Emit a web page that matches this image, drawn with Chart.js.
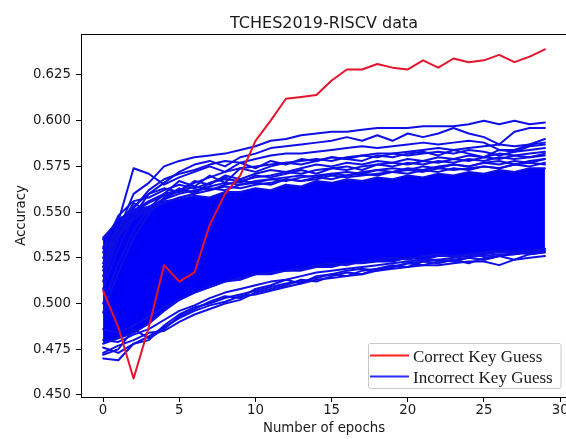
<!DOCTYPE html>
<html>
<head>
<meta charset="utf-8">
<title>TCHES2019-RISCV data</title>
<script src="https://cdn.jsdelivr.net/npm/chart.js@4.4.1/dist/chart.umd.min.js"></script>
<style>
  html, body { margin: 0; padding: 0; background: #fff; overflow: hidden; }
  #wrap { width: 566px; height: 439px; overflow: hidden; }
</style>
</head>
<body>
<div id="wrap"><canvas id="chart" width="570" height="439"></canvas></div>
<script>
// epochs and tick labels
const epochs = [0, 1, 2, 3, 4, 5, 6, 7, 8, 9, 10, 11, 12, 13, 14, 15, 16, 17, 18, 19, 20, 21, 22, 23, 24, 25, 26, 27, 28, 29]
const xTicks = [0, 5, 10, 15, 20, 25, 30]
const yTicks = [0.450, 0.475, 0.500, 0.525, 0.550, 0.575, 0.600, 0.625]

// correct key guess (red)
const correctKey = [0.507, 0.487, 0.459, 0.487, 0.521, 0.512, 0.517, 0.543, 0.560, 0.570, 0.589, 0.600, 0.612, 0.613, 0.614, 0.622, 0.628, 0.628, 0.631, 0.629, 0.628, 0.633, 0.629, 0.634, 0.632, 0.633, 0.636, 0.632, 0.635, 0.639]

// dense part of the incorrect guesses (upper / lower edge of the solid blue mass)
const bandTop = [0.535, 0.546, 0.551, 0.553, 0.556, 0.557, 0.559, 0.558, 0.561, 0.561, 0.563, 0.562, 0.565, 0.564, 0.567, 0.566, 0.568, 0.567, 0.569, 0.568, 0.570, 0.569, 0.571, 0.570, 0.572, 0.571, 0.573, 0.572, 0.574, 0.574]
const bandBottom = [0.478, 0.481, 0.484, 0.489, 0.496, 0.502, 0.506, 0.509, 0.512, 0.513, 0.516, 0.516, 0.518, 0.518, 0.520, 0.520, 0.522, 0.522, 0.523, 0.523, 0.525, 0.524, 0.526, 0.526, 0.527, 0.527, 0.528, 0.528, 0.529, 0.530]

// incorrect key guesses that stand out from the mass
const upperGuesses = [
  [0.515, 0.540, 0.560, 0.566, 0.575, 0.578, 0.580, 0.581, 0.582, 0.584, 0.586, 0.589, 0.590, 0.592, 0.593, 0.594, 0.594, 0.595, 0.596, 0.596, 0.596, 0.597, 0.597, 0.597, 0.598, 0.600, 0.598, 0.600, 0.598, 0.599],
  [0.508, 0.530, 0.548, 0.560, 0.566, 0.572, 0.576, 0.578, 0.575, 0.580, 0.582, 0.585, 0.586, 0.587, 0.588, 0.589, 0.591, 0.589, 0.592, 0.589, 0.593, 0.591, 0.593, 0.596, 0.593, 0.591, 0.587, 0.594, 0.596, 0.596],
  [0.512, 0.536, 0.552, 0.562, 0.568, 0.571, 0.573, 0.576, 0.578, 0.577, 0.579, 0.581, 0.582, 0.582, 0.583, 0.584, 0.585, 0.586, 0.585, 0.586, 0.587, 0.588, 0.587, 0.588, 0.589, 0.588, 0.584, 0.584, 0.587, 0.590],
  [0.520, 0.545, 0.574, 0.571, 0.565, 0.569, 0.572, 0.575, 0.572, 0.577, 0.574, 0.578, 0.576, 0.579, 0.578, 0.580, 0.579, 0.581, 0.580, 0.582, 0.581, 0.582, 0.583, 0.582, 0.584, 0.583, 0.581, 0.583, 0.584, 0.585],
  [0.500, 0.522, 0.540, 0.552, 0.560, 0.567, 0.564, 0.570, 0.566, 0.574, 0.572, 0.575, 0.577, 0.576, 0.578, 0.580, 0.579, 0.578, 0.581, 0.580, 0.582, 0.583, 0.581, 0.584, 0.582, 0.580, 0.584, 0.583, 0.586, 0.587],
  [0.495, 0.517, 0.536, 0.549, 0.557, 0.562, 0.566, 0.569, 0.572, 0.574, 0.575, 0.576, 0.577, 0.578, 0.579, 0.578, 0.580, 0.581, 0.582, 0.582, 0.583, 0.584, 0.585, 0.584, 0.585, 0.586, 0.587, 0.586, 0.587, 0.588],
  [0.525, 0.540, 0.553, 0.560, 0.563, 0.561, 0.567, 0.565, 0.570, 0.568, 0.571, 0.573, 0.572, 0.574, 0.576, 0.575, 0.577, 0.576, 0.578, 0.577, 0.579, 0.578, 0.580, 0.579, 0.581, 0.580, 0.582, 0.581, 0.582, 0.583],
  [0.530, 0.548, 0.556, 0.558, 0.562, 0.565, 0.563, 0.566, 0.568, 0.567, 0.569, 0.570, 0.572, 0.571, 0.573, 0.574, 0.573, 0.575, 0.576, 0.575, 0.577, 0.576, 0.578, 0.577, 0.579, 0.578, 0.580, 0.579, 0.580, 0.581],
  [0.536, 0.545, 0.550, 0.555, 0.559, 0.561, 0.564, 0.562, 0.565, 0.567, 0.566, 0.568, 0.569, 0.570, 0.569, 0.571, 0.572, 0.571, 0.573, 0.574, 0.573, 0.575, 0.574, 0.576, 0.575, 0.577, 0.578, 0.576, 0.578, 0.579],
  [0.528, 0.542, 0.551, 0.556, 0.560, 0.562, 0.561, 0.564, 0.566, 0.565, 0.567, 0.568, 0.567, 0.569, 0.570, 0.571, 0.570, 0.572, 0.573, 0.572, 0.574, 0.573, 0.575, 0.576, 0.575, 0.577, 0.576, 0.578, 0.577, 0.579],
  [0.522, 0.538, 0.548, 0.553, 0.557, 0.560, 0.562, 0.563, 0.562, 0.565, 0.566, 0.565, 0.568, 0.567, 0.569, 0.568, 0.570, 0.571, 0.570, 0.572, 0.571, 0.573, 0.572, 0.574, 0.573, 0.575, 0.574, 0.576, 0.575, 0.577],
  [0.518, 0.541, 0.555, 0.550, 0.558, 0.563, 0.560, 0.566, 0.569, 0.566, 0.570, 0.569, 0.571, 0.573, 0.571, 0.574, 0.575, 0.573, 0.576, 0.577, 0.576, 0.578, 0.577, 0.579, 0.578, 0.580, 0.579, 0.581, 0.580, 0.582],
  [0.531, 0.537, 0.546, 0.552, 0.555, 0.558, 0.560, 0.562, 0.564, 0.563, 0.565, 0.566, 0.568, 0.567, 0.568, 0.570, 0.569, 0.570, 0.571, 0.572, 0.573, 0.572, 0.574, 0.573, 0.574, 0.575, 0.574, 0.576, 0.577, 0.576]
]
const lowerGuesses = [
  [0.470, 0.469, 0.478, 0.482, 0.487, 0.492, 0.496, 0.499, 0.501, 0.504, 0.505, 0.507, 0.509, 0.511, 0.513, 0.514, 0.515, 0.516, 0.518, 0.519, 0.520, 0.521, 0.521, 0.522, 0.523, 0.523, 0.521, 0.524, 0.525, 0.526],
  [0.473, 0.477, 0.480, 0.484, 0.485, 0.490, 0.494, 0.497, 0.500, 0.502, 0.506, 0.508, 0.510, 0.513, 0.512, 0.515, 0.517, 0.516, 0.519, 0.520, 0.522, 0.521, 0.523, 0.524, 0.522, 0.525, 0.526, 0.524, 0.527, 0.528],
  [0.476, 0.473, 0.478, 0.480, 0.488, 0.494, 0.498, 0.500, 0.503, 0.505, 0.507, 0.509, 0.511, 0.512, 0.514, 0.516, 0.515, 0.518, 0.519, 0.521, 0.520, 0.523, 0.524, 0.523, 0.525, 0.524, 0.526, 0.527, 0.528, 0.529],
  [0.480, 0.479, 0.483, 0.486, 0.491, 0.496, 0.499, 0.503, 0.506, 0.508, 0.510, 0.512, 0.513, 0.515, 0.517, 0.518, 0.519, 0.520, 0.521, 0.522, 0.523, 0.524, 0.524, 0.525, 0.526, 0.526, 0.527, 0.527, 0.528, 0.529],
  [0.486, 0.484, 0.488, 0.493, 0.498, 0.502, 0.506, 0.509, 0.512, 0.514, 0.516, 0.517, 0.518, 0.519, 0.521, 0.522, 0.521, 0.523, 0.524, 0.525, 0.524, 0.526, 0.527, 0.526, 0.527, 0.528, 0.529, 0.528, 0.529, 0.530],
  [0.472, 0.475, 0.486, 0.481, 0.486, 0.493, 0.497, 0.501, 0.504, 0.503, 0.508, 0.510, 0.513, 0.511, 0.515, 0.516, 0.518, 0.519, 0.518, 0.520, 0.522, 0.523, 0.522, 0.524, 0.525, 0.524, 0.526, 0.528, 0.527, 0.528]
]

const blue = 'rgb(14, 14, 230)'
const toPoints = arr => arr.map((v, i) => ({ x: epochs[i], y: v }))

const datasets = [
  { label: 'Correct Key Guess', data: toPoints(correctKey), borderColor: '#e3142c', borderWidth: 2, order: 0 },
  { label: 'Incorrect Key Guess', data: toPoints(bandBottom), borderColor: blue, borderWidth: 2, fill: false, order: 2 },
  { label: 'Incorrect Key Guess', data: toPoints(bandTop), borderColor: blue, borderWidth: 2, backgroundColor: 'rgb(0, 0, 246)', fill: '-1', order: 2 }
]
upperGuesses.concat(lowerGuesses).forEach(arr => {
  datasets.push({ label: 'Incorrect Key Guess', data: toPoints(arr), borderColor: blue, borderWidth: 2, fill: false, order: 1 })
})

// title, axis titles, top/right frame and the legend box
const decorations = {
  id: 'decorations',
  afterDraw (chart) {
    const { ctx, chartArea } = chart
    ctx.save()
    ctx.strokeStyle = '#000'
    ctx.lineWidth = 1
    ctx.beginPath()
    ctx.moveTo(chartArea.left, Math.round(chartArea.top) + 0.5)
    ctx.lineTo(chartArea.right, Math.round(chartArea.top) + 0.5)
    ctx.lineTo(chartArea.right, chartArea.bottom)
    ctx.stroke()

    ctx.fillStyle = '#1a1a1a'
    ctx.textAlign = 'center'
    ctx.textBaseline = 'alphabetic'
    ctx.font = '16px "DejaVu Sans"'
    ctx.fillText('TCHES2019-RISCV data', (chartArea.left + chartArea.right) / 2, 27.5)
    ctx.font = '13.3px "DejaVu Sans"'
    ctx.fillText('Number of epochs', (chartArea.left + chartArea.right) / 2, 431.5)
    ctx.save()
    ctx.translate(24.8, (chartArea.top + chartArea.bottom) / 2)
    ctx.rotate(-Math.PI / 2)
    ctx.fillText('Accuracy', 0, 0)
    ctx.restore()

    // legend
    ctx.fillStyle = 'rgba(255, 255, 255, 0.85)'
    ctx.strokeStyle = '#c8c8c8'
    ctx.beginPath()
    ctx.roundRect(368.5, 343.5, 192.5, 45, 2)
    ctx.fill()
    ctx.stroke()
    const rows = [
      { text: datasets[0].label, color: '#ff1f1f', y: 355.5, base: 361.7 },
      { text: datasets[1].label, color: '#2a2aff', y: 376.5, base: 382.6 }
    ]
    ctx.font = '17px "Liberation Serif"'
    ctx.textAlign = 'left'
    rows.forEach(r => {
      ctx.strokeStyle = r.color
      ctx.lineWidth = 2
      ctx.beginPath()
      ctx.moveTo(370, r.y)
      ctx.lineTo(409, r.y)
      ctx.stroke()
      ctx.fillStyle = '#1a1a1a'
      ctx.fillText(r.text, 413, r.base)
    })
    ctx.restore()
  }
}

const tickFont = { family: 'DejaVu Sans', size: 13.3 }

new Chart(document.getElementById('chart'), {
  type: 'line',
  data: { datasets },
  plugins: [decorations],
  options: {
    responsive: false,
    animation: false,
    devicePixelRatio: 1,
    layout: { padding: { top: 34, right: 3, left: 0, bottom: 0 } },
    elements: {
      point: { radius: 0, hoverRadius: 0 },
      line: { tension: 0, borderJoinStyle: 'round', borderCapStyle: 'round' }
    },
    plugins: {
      legend: { display: false },
      title: { display: false },
      tooltip: { enabled: false }
    },
    events: [],
    scales: {
      x: {
        type: 'linear',
        min: -1.45,
        max: 30.45,
        grid: { drawOnChartArea: false, drawTicks: true, tickLength: 5, color: '#000' },
        border: { display: true, color: '#000', width: 1 },
        ticks: { font: tickFont, color: '#1a1a1a', padding: 1, maxRotation: 0 },
        afterBuildTicks: s => { s.ticks = xTicks.map(v => ({ value: v })) },
        afterFit: s => { s.height = 42 }
      },
      y: {
        type: 'linear',
        min: 0.4489,
        max: 0.6474,
        grid: { drawOnChartArea: false, drawTicks: true, tickLength: 5, color: '#000' },
        border: { display: true, color: '#000', width: 1 },
        ticks: { font: tickFont, color: '#1a1a1a', padding: 5, callback: v => v.toFixed(3) },
        afterBuildTicks: s => { s.ticks = yTicks.map(v => ({ value: v })) },
        afterFit: s => { s.width = 81 }
      }
    }
  }
})
</script>
</body>
</html>
